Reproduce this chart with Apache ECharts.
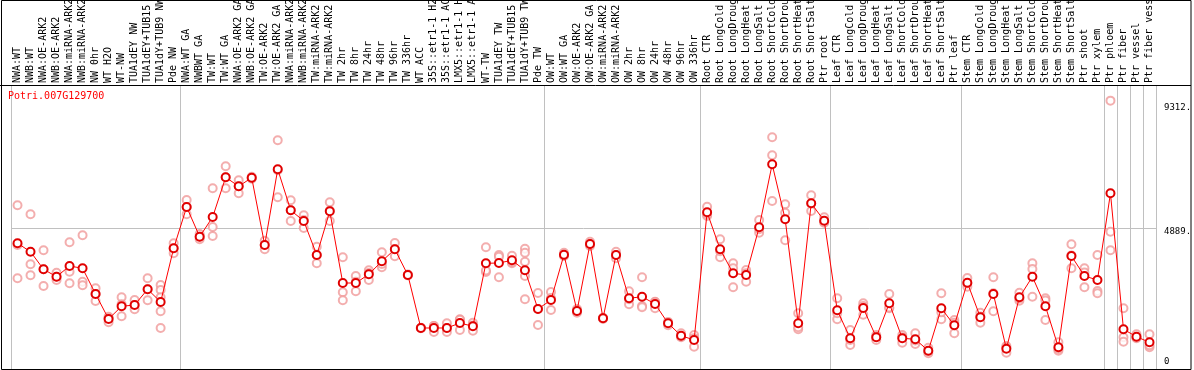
<!DOCTYPE html>
<html>
<head>
<meta charset="utf-8">
<script src="https://cdn.jsdelivr.net/npm/echarts@6/dist/echarts.min.js"></script>
<style>
html,body{margin:0;padding:0;background:#fff;}
#chart{width:1194px;height:370px;}
</style>
</head>
<body>
<div id="chart"></div>
<script>
const geneName = 'Potri.007G129700';

const categories = [
  'NWA:WT','NWB:WT','NWA:OE-ARK2','NWB:OE-ARK2','NWA:miRNA-ARK2','NWB:miRNA-ARK2','NW 0hr','WT H2O','WT-NW','TUA1dEY NW',
  'TUA1dEY+TUB15 NW','TUA1dY+TUB9 NW','Pde NW',
  'NWA:WT GA','NWBWT GA','TW:WT','TW:WT GA','NWA:OE-ARK2 GA','NWB:OE-ARK2 GA','TW:OE-ARK2','TW:OE-ARK2 GA',
  'NWA:miRNA-ARK2 GA','NWB:miRNA-ARK2 GA','TW:miRNA-ARK2','TW:miRNA-ARK2','TW 2hr','TW 8hr','TW 24hr','TW 48hr','TW 96hr',
  'TW 336hr','WT ACC','35S::etr1-1 H2O','35S::etr1-1 ACC','LMX5::etr1-1 H2O','LMX5::etr1-1 ACC','WT-TW','TUA1dEY TW',
  'TUA1dEY+TUB15 TW','TUA1dY+TUB9 TW','Pde TW',
  'OW:WT','OW:WT GA','OW:OE-ARK2','OW:OE-ARK2 GA','OW:miRNA-ARK2','OW:miRNA-ARK2','OW 2hr','OW 8hr','OW 24hr','OW 48hr',
  'OW 96hr','OW 336hr',
  'Root CTR','Root LongCold','Root LongDrought','Root LongHeat','Root LongSalt','Root ShortCold','Root ShortDrought',
  'Root ShortHeat','Root ShortSalt','Ptr root',
  'Leaf CTR','Leaf LongCold','Leaf LongDrought','Leaf LongHeat','Leaf LongSalt','Leaf ShortCold','Leaf ShortDrought',
  'Leaf ShortHeat','Leaf ShortSalt','Ptr leaf',
  'Stem CTR','Stem LongCold','Stem LongDrought','Stem LongHeat','Stem LongSalt','Stem ShortCold','Stem ShortDrought',
  'Stem ShortHeat','Stem ShortSalt','Ptr shoot','Ptr xylem',
  'Ptr phloem','Ptr fiber','Ptr vessel','Ptr fiber vessel'
];

// indices of categories that start a new group (a separator line is drawn on their left edge)
const groupStarts = [0, 13, 41, 53, 63, 73, 84, 85, 86, 87];

const meanValues = [
  4362,4070,3460,3203,3574,3494,2603,1735,2176,2221,
  2766,2325,4188,5621,4591,5274,6652,6340,6638,4303,
  6930,5507,5136,3956,5472,2984,2984,3286,3737,4154,
  3262,1423,1423,1423,1596,1482,3668,3678,3772,3425,
  2082,2394,3966,2013,4338,1759,3956,2453,2509,2256,
  1586,1156,1006,5437,4154,3321,3262,4917,7103,5195,
  1586,5750,5146,2037,1065,2117,1100,2280,1065,1031,
  635,2106,1516,2995,1794,2603,704,2488,3203,2176,
  753,3921,3227,3088,6097,1378,1121,926
];

const repA = [
  5680,5368,4119,3342,4396,4639,2800,1815,2488,2394,
  3147,2915,4362,5864,4685,6270,7034,6548,6673,4452,
  7936,5854,5333,4244,5784,3876,3227,3425,4049,4372,
  3262,1430,1284,1586,1725,1607,4223,3956,3932,4174,
  2637,2672,4036,1954,4417,1759,4070,2696,3182,2335,
  1607,1239,1180,5632,4501,3668,3435,5170,8040,5715,
  1933,6027,5264,2453,1353,2280,1180,2603,1180,1239,
  739,2627,1700,3158,1954,3182,798,2648,3668,2453,
  926,4327,3494,3956,9312,2106,1204,1204
];

const repB = [
  4303,3633,3460,3088,3376,3029,2603,1760,2245,2221,
  2766,2741,4015,5368,4501,4927,6270,6097,6603,4154,
  5958,5136,4893,3668,5136,2661,2696,3088,3529,3911,
  3250,1415,1492,1284,1353,1329,3366,3182,3668,4036,
  1527,2047,3921,2082,4268,1740,3841,2245,2186,2106,
  1516,1100,774,5309,3876,3494,3029,4730,7415,5424,
  1378,5483,5101,1725,833,1884,1006,2106,913,868,
  545,1725,1239,2856,1607,2002,566,2370,3470,1700,
  635,3494,2835,2707,4764,1100,1065,753
];

const repC = [
  3147,3251,2880,3203,2974,2904,2360,1620,1829,2072,
  2384,2488,4188,5621,4591,4615,6652,6340,6638,4303,
  6900,5507,5170,3956,5496,2384,3030,3331,3644,4164,
  3275,1423,1493,1423,1710,1510,3415,3896,3716,3723,
  2082,2463,3941,2003,4329,1778,3957,2418,2141,2327,
  1635,1129,1064,5370,4085,2835,3322,4851,5830,4466,
  1447,5740,5073,1933,1009,2187,1114,2131,1102,986,
  621,1966,1609,2971,1821,2625,748,2446,2509,2375,
  698,3942,3352,2627,4119,947,1094,821
];

// extra replicates (only two conditions have five samples)
const repD = categories.map(() => null);
const repE = categories.map(() => null);
repD[11] = 2002; repE[11] = 1423;
repD[39] = 3227; repE[39] = 2419;

const yTickValues = [0, 4889, 9312];
const yTickLabels = ['0', '4889.', '9312.'];

const MONO = 'DejaVu Sans Mono';

function repSeries(arr) {
  return {
    type: 'scatter',
    data: arr,
    symbol: 'emptyCircle',
    symbolSize: 8,
    itemStyle: { color: '#f09a9a', borderColor: '#f09a9a', borderWidth: 1.2 },
    z: 2,
    silent: true
  };
}

const chart = echarts.init(document.getElementById('chart'), null, { renderer: 'canvas' });
chart.setOption({
  animation: false,
  backgroundColor: '#ffffff',
  title: {
    text: geneName,
    left: 8,
    top: 91,
    padding: 0,
    textStyle: { color: '#ff0000', fontFamily: MONO, fontSize: 10, fontWeight: 'normal' }
  },
  grid: { left: 11, right: 38, top: 85, bottom: 1, containLabel: false, outerBoundsMode: 'none' },
  xAxis: {
    type: 'category',
    data: categories,
    position: 'top',
    boundaryGap: true,
    axisLine: { show: true, lineStyle: { color: '#000', width: 1 } },
    axisTick: {
      show: true,
      length: 85,
      interval: (idx) => groupStarts.indexOf(idx) >= 0,
      lineStyle: { color: '#c0c0c0', width: 1 }
    },
    splitLine: {
      show: true,
      interval: (idx) => groupStarts.indexOf(idx) >= 0,
      lineStyle: { color: '#c0c0c0', width: 1 }
    },
    axisLabel: {
      interval: 0,
      rotate: 90,
      margin: 2,
      hideOverlap: false,
      color: '#000',
      fontFamily: MONO,
      fontSize: 10
    }
  },
  yAxis: {
    type: 'value',
    position: 'right',
    min: 0,
    max: 9855,
    axisLine: { show: false },
    axisTick: { show: false, customValues: [4889] },
    splitLine: { show: true, lineStyle: { color: '#c0c0c0', width: 1 } },
    axisLabel: {
      customValues: yTickValues,
      margin: 8,
      align: 'left',
      verticalAlign: 'middle',
      color: '#000',
      fontFamily: MONO,
      fontSize: 9,
      formatter: (v) => {
        const i = yTickValues.indexOf(v);
        const key = i === 0 ? 'z' : (i === 1 ? 'm' : 't');
        return '{' + key + '|' + yTickLabels[i] + '}';
      },
      rich: {
        z: { fontFamily: MONO, fontSize: 9, color: '#000', padding: [0, 0, 14, 0] },
        m: { fontFamily: MONO, fontSize: 9, color: '#000', padding: [8, 0, 0, 0] },
        t: { fontFamily: MONO, fontSize: 9, color: '#000', padding: [14, 0, 0, 0] }
      }
    }
  },
  series: [
    repSeries(repA), repSeries(repB), repSeries(repC), repSeries(repD), repSeries(repE),
    {
      type: 'line',
      data: meanValues,
      symbol: 'emptyCircle',
      symbolSize: 8,
      showAllSymbol: true,
      lineStyle: { color: '#ff0000', width: 1 },
      itemStyle: { color: '#e00000', borderColor: '#e00000', borderWidth: 1.5 },
      z: 5,
      silent: true
    }
  ],
  graphic: [
    { type: 'rect', silent: true, z: 100,
      shape: { x: 1.5, y: 0.5, width: 1189.5, height: 369 },
      style: { fill: 'none', stroke: '#000', lineWidth: 1 } },
    { type: 'line', silent: true, z: 100,
      shape: { x1: 0, y1: 85.5, x2: 1191, y2: 85.5 },
      style: { stroke: '#000', lineWidth: 1 } }
  ]
});
</script>
</body>
</html>
